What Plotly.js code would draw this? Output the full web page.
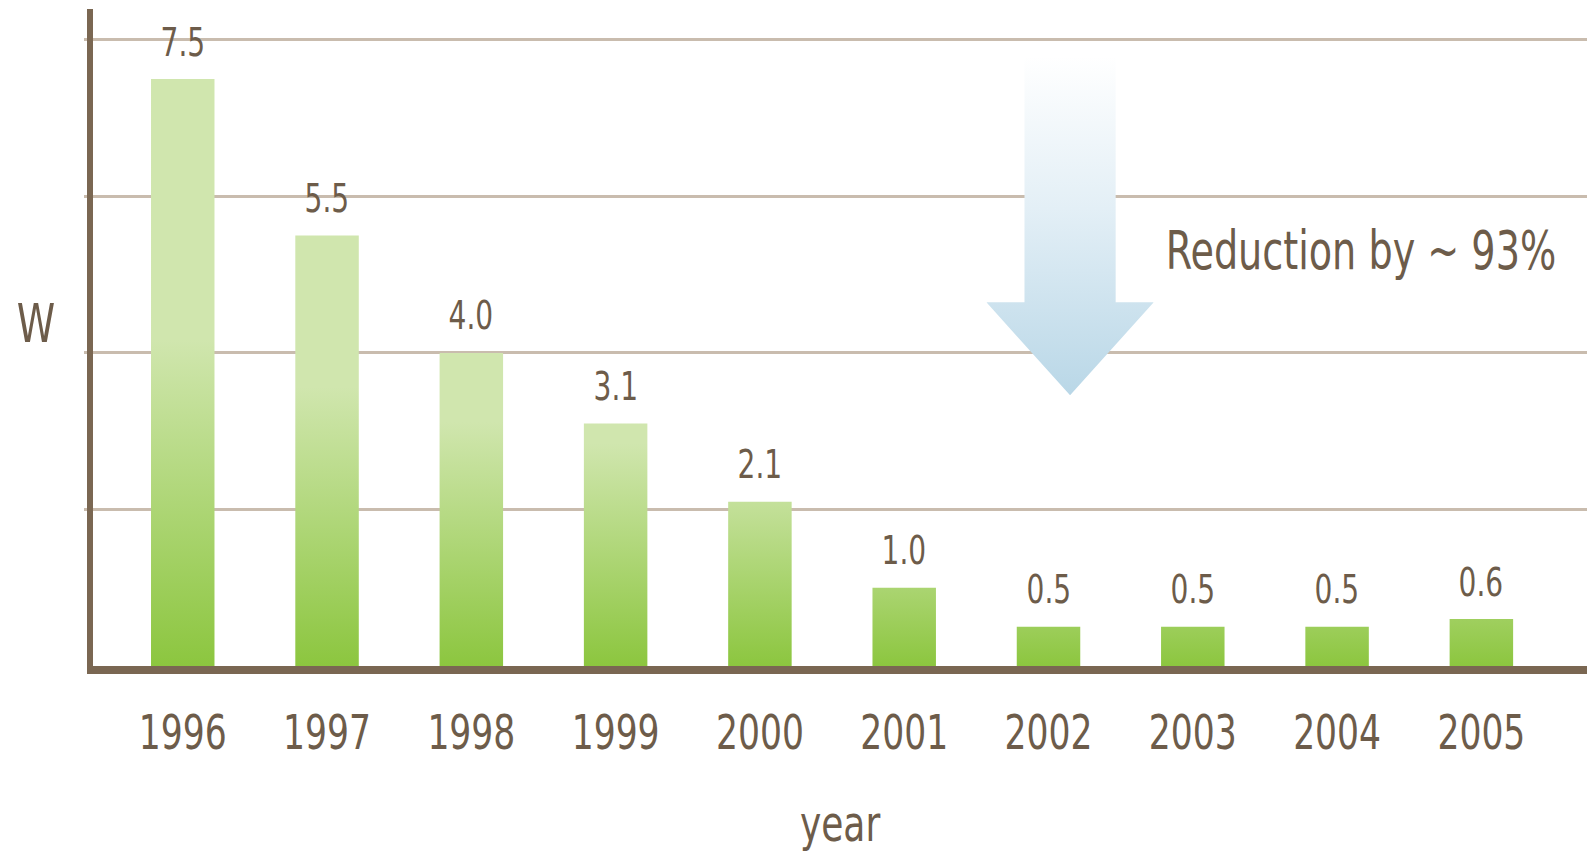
<!DOCTYPE html>
<html>
<head>
<meta charset="utf-8">
<script src="https://cdn.plot.ly/plotly-3.0.1.min.js"></script>
<style>
  html, body { margin: 0; padding: 0; background: #ffffff; }
  #chart { width: 1587px; height: 853px; }
</style>
</head>
<body>
<div id="chart"></div>
<script>
// ---- data ----
var years = ['1996', '1997', '1998', '1999', '2000', '2001', '2002', '2003', '2004', '2005'];
var watts = [7.5, 5.5, 4.0, 3.1, 2.1, 1.0, 0.5, 0.5, 0.5, 0.6];
var valueLabels = watts.map(function (v) { return v.toFixed(1); });
var yTitle = 'W';
var xTitle = 'year';
var noteText = 'Reduction by ~ 93%';

// ---- style ----
var FONT = "'DejaVu Sans Condensed', 'DejaVu Sans', sans-serif";
var TEXT = '#6d5c4a';
var AXIS = '#7a6752';
var GRID = '#c9bcae';
var CONDENSE = 0.8;

var arrowSvg = "<svg xmlns='http://www.w3.org/2000/svg' viewBox='0 0 167 339' preserveAspectRatio='none'>" +
  "<defs><linearGradient id='a' x1='0' y1='0' x2='0' y2='1'>" +
  "<stop offset='0' stop-color='#ffffff'/><stop offset='0.45' stop-color='#e3eff6'/>" +
  "<stop offset='1' stop-color='#b9d7e7'/></linearGradient></defs>" +
  "<path d='M38 0H129V246H167L83.5 339L0 246H38Z' fill='url(#a)'/></svg>";
var arrowSrc = 'data:image/svg+xml;charset=utf-8,' + encodeURIComponent(arrowSvg);

var trace = {
  type: 'bar',
  x: years,
  y: watts,
  width: 0.44,
  marker: { color: '#b0d67a', line: { width: 0 } },
  hoverinfo: 'none'
};

var annotations = years.map(function (yr, i) {
  return {
    x: i, y: watts[i], xref: 'x', yref: 'y',
    text: valueLabels[i], showarrow: false,
    yanchor: 'middle', xanchor: 'center', yshift: 37,
    font: { family: FONT, size: 39, color: TEXT }
  };
});
annotations.push({
  xref: 'paper', yref: 'paper', x: -0.038, y: 0.522,
  xanchor: 'center', yanchor: 'middle',
  text: yTitle, showarrow: false,
  font: { family: FONT, size: 54, color: TEXT }
});
annotations.push({
  xref: 'paper', yref: 'paper', x: 0.849, y: 0.632,
  xanchor: 'center', yanchor: 'middle',
  text: noteText, showarrow: false,
  font: { family: FONT, size: 53, color: TEXT }
});

var layout = {
  width: 1587, height: 853,
  margin: { l: 93, r: 0, t: 9, b: 187 },
  paper_bgcolor: '#ffffff', plot_bgcolor: '#ffffff',
  showlegend: false,
  xaxis: {
    type: 'category',
    range: [-0.622, 9.732],
    showline: true, linecolor: AXIS, linewidth: 8,
    ticks: '', showgrid: false, zeroline: false,
    tickfont: { family: FONT, size: 48, color: TEXT },
    ticklabelstandoff: 17,
    title: { text: xTitle, font: { family: FONT, size: 50, color: TEXT }, standoff: 52 }
  },
  yaxis: {
    range: [0, 8.396],
    tickvals: [2, 4, 6, 8],
    showticklabels: false,
    showgrid: true, gridcolor: GRID, gridwidth: 3,
    ticks: 'outside', ticklen: 3, tickwidth: 3, tickcolor: GRID,
    showline: true, linecolor: AXIS, linewidth: 6,
    zeroline: false
  },
  images: [{
    source: arrowSrc,
    xref: 'paper', yref: 'paper',
    x: 0.598, y: 0.928, sizex: 0.112, sizey: 0.516,
    xanchor: 'left', yanchor: 'top',
    sizing: 'stretch', layer: 'above'
  }],
  annotations: annotations
};

var gd = document.getElementById('chart');

function applyGradients() {
  var NS = 'http://www.w3.org/2000/svg';
  var svg = gd.querySelector('svg.main-svg');
  var defs = document.createElementNS(NS, 'defs');
  svg.insertBefore(defs, svg.firstChild);
  var paths = gd.querySelectorAll('.barlayer .point path');
  Array.prototype.forEach.call(paths, function (p, i) {
    var b = p.getBBox();
    var base = b.y + b.height;
    var len = 150 + 0.3 * b.height;
    var g = document.createElementNS(NS, 'linearGradient');
    g.setAttribute('id', 'barGrad' + i);
    g.setAttribute('gradientUnits', 'userSpaceOnUse');
    g.setAttribute('x1', '0'); g.setAttribute('x2', '0');
    g.setAttribute('y1', String(base)); g.setAttribute('y2', String(base - len));
    var s1 = document.createElementNS(NS, 'stop');
    s1.setAttribute('offset', '0'); s1.setAttribute('stop-color', '#8cc63f');
    var s2 = document.createElementNS(NS, 'stop');
    s2.setAttribute('offset', '1'); s2.setAttribute('stop-color', '#d0e6ae');
    g.appendChild(s1); g.appendChild(s2);
    defs.appendChild(g);
    p.style.fill = 'url(#barGrad' + i + ')';
  });
}

// narrow the glyphs horizontally (the reference uses a condensed face)
function condenseText() {
  var texts = gd.querySelectorAll('svg text');
  Array.prototype.forEach.call(texts, function (t) {
    var b = t.getBBox();
    if (!b.width) return;
    var cx = b.x + b.width / 2;
    var tr = t.getAttribute('transform') || '';
    t.setAttribute('transform', tr + ' translate(' + cx + ',0) scale(' + CONDENSE + ',1) translate(' + (-cx) + ',0)');
  });
}

Plotly.newPlot(gd, [trace], layout, { staticPlot: true, displayModeBar: false }).then(function () {
  applyGradients();
  condenseText();
});
</script>
</body>
</html>
